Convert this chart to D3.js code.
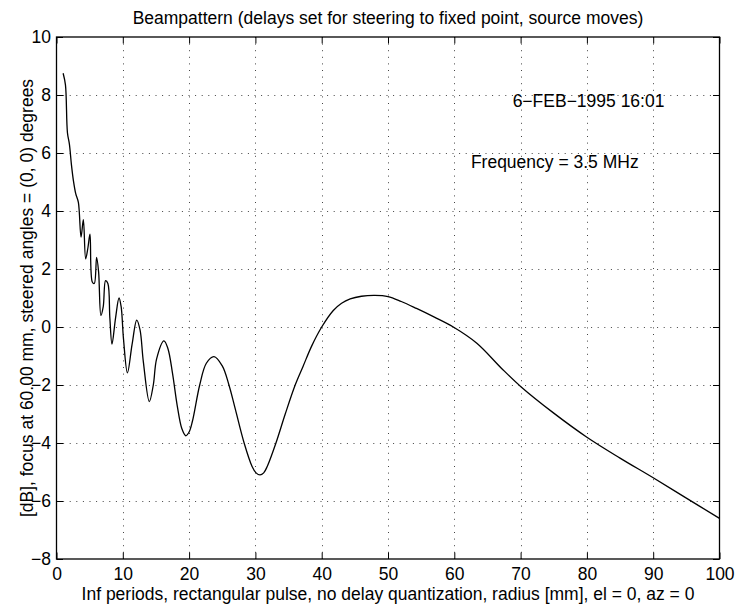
<!DOCTYPE html>
<html>
<head>
<meta charset="utf-8">
<script src="https://cdn.jsdelivr.net/npm/d3@7"></script>
<style>
  html, body { margin: 0; padding: 0; background: #fff; }
  svg { display: block; }
  text { font-family: "Liberation Sans", Arial, Helvetica, sans-serif; fill: #000; }
</style>
</head>
<body>
<svg id="chart" width="739" height="607"></svg>
<script>
// Radius samples [mm] and beampattern level [dB]
const radius = [
  1.0, 1.35, 1.65, 1.95, 2.25, 2.55, 2.9, 3.3, 3.7, 4.05, 4.4, 4.75, 5.05, 5.4, 5.7,
  6.05, 6.35, 6.7, 7.05, 7.4, 7.75, 8.05, 8.37, 8.9, 9.43, 9.75, 10.1, 10.7, 11.4,
  12.1, 12.6, 13.1, 14.0, 14.6, 15.1, 16.2, 16.8, 17.5, 18.2, 18.9, 19.5, 20.0, 20.5, 21.6, 22.6,
  23.75, 25.0, 26.0, 27.0, 28.3, 29.5, 30.1, 30.7, 31.25, 31.8, 33.1, 34.5, 36.0, 37.2, 38.5,
  40.0, 41.75, 43.0, 44.3, 46.0, 48.0, 50.0, 52.0, 54.3, 57.0, 59.85, 63.4, 67.1, 70, 75,
  80, 85, 90, 95, 100
];
const levelDb = [
  8.75, 8.35, 6.7, 6.3, 5.6, 5.05, 4.6, 4.3, 3.1, 3.7, 2.35, 2.75, 3.2, 1.55, 1.5,
  2.4, 1.9, 0.4, 0.7, 1.6, 1.5, 0.3, -0.59, 0.3, 1.0, 0.7, -0.4, -1.58, -0.6,
  0.24, -0.1, -1.2, -2.57, -2.0, -1.1, -0.48, -0.74, -1.6, -2.7, -3.5, -3.75, -3.62, -3.25, -2.0, -1.25,
  -1.02, -1.34, -1.99, -2.86, -4.0, -4.81, -5.03, -5.1, -5.03, -4.8, -4.0, -3.0, -2.0, -1.35, -0.65,
  0.0, 0.57, 0.82, 0.97, 1.06, 1.09, 1.05, 0.88, 0.64, 0.34, 0.0, -0.56, -1.42, -2.05, -2.97,
  -3.8, -4.52, -5.2, -5.9, -6.6
];
const xTicks = [0, 10, 20, 30, 40, 50, 60, 70, 80, 90, 100];
const yTicks = [-8, -6, -4, -2, 0, 2, 4, 6, 8, 10];

const titleText = "Beampattern (delays set for steering to fixed point, source moves)";
const xLabelText = "Inf periods, rectangular pulse, no delay quantization, radius [mm], el = 0, az = 0";
const yLabelText = "[dB], focus at  60.00 mm, steered angles = (0, 0) degrees";
const dateText = "6\u2212FEB\u22121995 16:01";
const freqText = "Frequency = 3.5 MHz";

const svg = d3.select("#chart");
const plotL = 56.5, plotR = 719.5, plotT = 37, plotB = 559;
const fs = 17.5;

const x = d3.scaleLinear().domain([0, 100]).range([plotL, plotR]);
const y = d3.scaleLinear().domain([-8, 10]).range([plotB, plotT]);

const fmt = v => (v < 0 ? "\u2212" + Math.abs(v) : String(v));

// Dotted grid
const grid = svg.append("g")
  .attr("stroke", "#444").attr("stroke-width", 1).attr("stroke-dasharray", "1 5.6");
grid.selectAll(".gx").data(xTicks.slice(1, -1)).join("line")
  .attr("x1", d => Math.round(x(d)) + 0.5).attr("x2", d => Math.round(x(d)) + 0.5)
  .attr("y1", plotT).attr("y2", plotB);
grid.selectAll(".gy").data(yTicks.slice(1, -1)).join("line")
  .attr("y1", d => Math.round(y(d)) + 0.5).attr("y2", d => Math.round(y(d)) + 0.5)
  .attr("x1", plotL).attr("x2", plotR);

// Axes with inward ticks on all four sides
const tl = 6.5;
const axB = svg.append("g").attr("transform", `translate(0,${plotB})`)
  .call(d3.axisBottom(x).tickValues(xTicks).tickSizeInner(-tl).tickSizeOuter(0).tickPadding(8.5).tickFormat(fmt));
const axT = svg.append("g").attr("transform", `translate(0,${plotT})`)
  .call(d3.axisTop(x).tickValues(xTicks).tickSizeInner(-tl).tickSizeOuter(0).tickFormat(""));
const axL = svg.append("g").attr("transform", `translate(${plotL},0)`)
  .call(d3.axisLeft(y).tickValues(yTicks).tickSizeInner(-tl).tickSizeOuter(0).tickPadding(5.5).tickFormat(fmt));
const axR = svg.append("g").attr("transform", `translate(${plotR},0)`)
  .call(d3.axisRight(y).tickValues(yTicks).tickSizeInner(-tl).tickSizeOuter(0).tickFormat(""));
[axB, axT, axL, axR].forEach(a => {
  a.attr("font-family", null).attr("font-size", null);
  a.select(".domain").remove();
  a.selectAll("line").attr("stroke", "#000").attr("stroke-width", 1);
  a.selectAll("text").attr("font-size", fs).attr("fill", "#000");
});

// Box
svg.append("rect")
  .attr("x", plotL).attr("y", plotT).attr("width", plotR - plotL).attr("height", plotB - plotT)
  .attr("fill", "none").attr("stroke", "#000").attr("stroke-width", 1.3);

// Beampattern curve
const pts = radius.map((r, i) => [r, levelDb[i]]);
svg.append("path")
  .datum(pts)
  .attr("fill", "none").attr("stroke", "#000").attr("stroke-width", 1.3)
  .attr("stroke-linejoin", "round")
  .attr("d", d3.line().x(d => x(d[0])).y(d => y(d[1])).curve(d3.curveCatmullRom.alpha(0.5)));

// Title and axis labels
svg.append("text").attr("x", (plotL + plotR) / 2).attr("y", 24)
  .attr("text-anchor", "middle").attr("font-size", fs).text(titleText);
svg.append("text").attr("x", (plotL + plotR) / 2).attr("y", 599.5)
  .attr("text-anchor", "middle").attr("font-size", fs).text(xLabelText);
svg.append("text").attr("transform", `translate(33,${(plotT + plotB) / 2}) rotate(-90)`)
  .attr("text-anchor", "middle").attr("font-size", fs).text(yLabelText);

// Annotations (left-aligned, baseline at the given level)
svg.append("text").attr("x", x(68.8)).attr("y", y(7.6))
  .attr("font-size", fs).text(dateText);
svg.append("text").attr("x", x(62.5)).attr("y", y(5.48))
  .attr("font-size", fs).text(freqText);
</script>
</body>
</html>
